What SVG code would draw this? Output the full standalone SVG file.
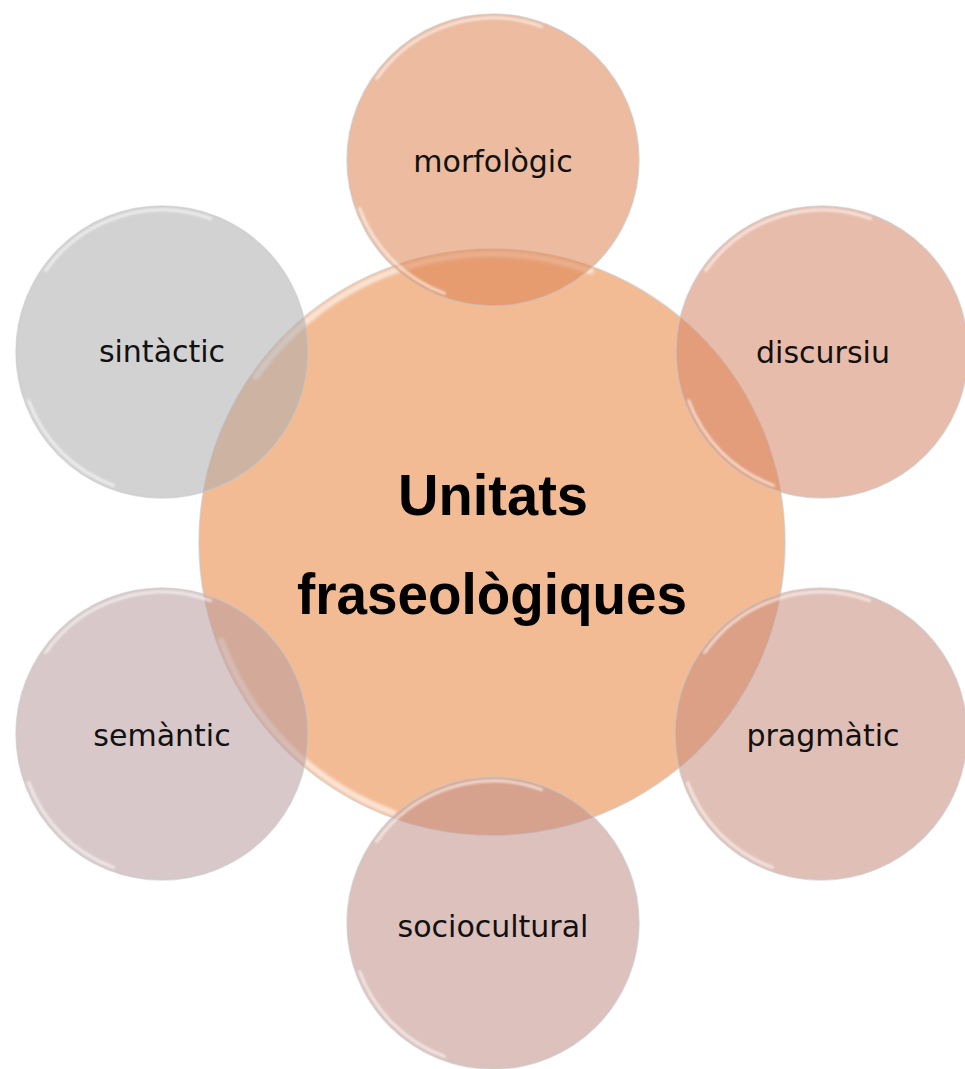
<svg xmlns="http://www.w3.org/2000/svg" xmlns:xlink="http://www.w3.org/1999/xlink" width="965" height="1069" viewBox="0 0 965 1069">
<style>
.ring{stroke:#c8c8c8;stroke-opacity:0.6;stroke-width:1.5}
.sat{fill-opacity:0.55}
.gl{fill:none;stroke:#ffffff;stroke-width:3;stroke-opacity:0.6;stroke-linecap:round}
.lbl{font-family:"DejaVu Sans",sans-serif;font-size:30px;fill:#111111;text-anchor:middle}
.ttl{font-family:"Liberation Sans",Arial,sans-serif;font-weight:bold;font-size:58px;fill:#000000;text-anchor:middle}
</style>
<defs>
<filter id="soft" x="-20%" y="-20%" width="140%" height="140%"><feGaussianBlur stdDeviation="0.8"/></filter>
<g id="gloss" filter="url(#soft)">
<path class="gl" d="M -116.3 -81.5 A 142 142 0 0 1 48.6 -133.4"/>
<path class="gl" d="M -48.6 133.4 A 142 142 0 0 1 -133.4 48.6"/>
</g>
</defs>
<rect width="965" height="1069" fill="#ffffff"/>
<g id="centre">
<circle cx="492" cy="542" r="293" fill="#f3bb94" class="ring"/>
<use xlink:href="#gloss" transform="translate(492 542) scale(2.03)"/>
<text class="ttl" x="493" y="515" textLength="190" lengthAdjust="spacingAndGlyphs">Unitats</text>
<text class="ttl" x="492" y="614" textLength="390" lengthAdjust="spacingAndGlyphs">fraseològiques</text>
</g>
<g id="connectors"></g>
<g id="morfologic">
<circle cx="493" cy="160" r="146" fill="#dc8352" class="sat ring"/>
<use xlink:href="#gloss" transform="translate(493 160)"/>
<text class="lbl" x="493" y="172">morfològic</text>
</g>
<g id="discursiu">
<circle cx="822" cy="352" r="146" fill="#d58566" class="sat ring"/>
<use xlink:href="#gloss" transform="translate(822 352)"/>
<text class="lbl" x="823" y="363">discursiu</text>
</g>
<g id="pragmatic">
<circle cx="821" cy="734" r="146" fill="#c78b7a" class="sat ring"/>
<use xlink:href="#gloss" transform="translate(821 734)"/>
<text class="lbl" x="823" y="746">pragmàtic</text>
</g>
<g id="sociocultural">
<circle cx="493" cy="923" r="146" fill="#bf8e87" class="sat ring"/>
<use xlink:href="#gloss" transform="translate(493 923)"/>
<text class="lbl" x="493" y="937">sociocultural</text>
</g>
<g id="semantic">
<circle cx="162" cy="734" r="146" fill="#b89b9d" class="sat ring"/>
<use xlink:href="#gloss" transform="translate(162 734)"/>
<text class="lbl" x="162" y="746">semàntic</text>
</g>
<g id="sintactic">
<circle cx="162" cy="352" r="146" fill="#adadad" class="sat ring"/>
<use xlink:href="#gloss" transform="translate(162 352)"/>
<text class="lbl" x="162" y="362">sintàctic</text>
</g>
</svg>
